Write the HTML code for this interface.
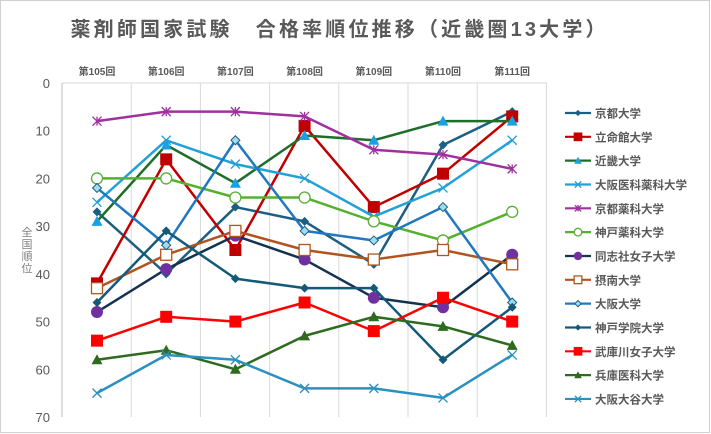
<!DOCTYPE html>
<html><head><meta charset="utf-8"><style>
body{margin:0;background:#fff}
svg{display:block;font-family:"Liberation Sans","Noto Sans CJK JP",sans-serif}
</style></head><body>
<svg id="c" width="711" height="434" xmlns="http://www.w3.org/2000/svg"></svg>
<script>
const s=document.getElementById('c');let h='';
h+='<rect x="0.5" y="0.5" width="709" height="432" fill="#fff" stroke="#d0d0d0"/>';
h+='<text x="338" y="36" font-size="20" font-weight="bold" fill="#595959" text-anchor="middle" textLength="535">薬剤師国家試験　合格率順位推移（近畿圏13大学）</text>';
const L=62,R=547,T=83,B=417,dx=69.2,x0=97;
const X=i=>x0+i*dx, Y=v=>T+v*(B-T)/70;
for(let i=0;i<=7;i++){const gx=L+i*dx;h+=`<line x1="${gx}" y1="${T}" x2="${gx}" y2="${B}" stroke="${i==0?'#bfbfbf':'#d9d9d9'}" stroke-width="1"/>`;}
h+=`<line x1="${L}" y1="${T}" x2="${R}" y2="${T}" stroke="#d9d9d9"/>`;
for(let v=0;v<=70;v+=10)h+=`<text x="50" y="${Y(v)+5}" font-size="13" fill="#595959" text-anchor="end">${v}</text>`;
['105','106','107','108','109','110','111'].forEach((n,i)=>h+=`<text x="${X(i)}" y="75" font-size="10" font-weight="bold" fill="#595959" text-anchor="middle">第${n}回</text>`);
['全','国','順','位'].forEach((c,i)=>h+=`<text x="27" y="${236+i*12}" font-size="11" fill="#7f7f7f" text-anchor="middle">${c}</text>`);
const S=[
['京都大学','#1c5f80','dia','#1c5f80',[27,40,26,29,38,13,6]],
['立命館大学','#c00000','sq','#c00000',[42,16,35,9,26,19,7]],
['近畿大学','#1e6e2a','tri','#1ba1e2',[29,13,21,11,12,8,8]],
['大阪医科薬科大学','#22a0d8','x','#22a0d8',[25,12,17,20,28,22,12]],
['京都薬科大学','#a030a0','ast','#a030a0',[8,6,6,7,14,15,18]],
['神戸薬科大学','#56b030','oc','#56b030',[20,20,24,24,29,33,27]],
['同志社女子大学','#13324f','circ','#7030a0',[48,39,32,37,45,47,36]],
['摂南大学','#b05520','osq','#b05520',[43,36,31,35,37,35,38]],
['大阪大学','#1f78c0','odia','#1f5f80',[22,34,12,31,33,26,46]],
['神戸学院大学','#135a7a','dia','#135a7a',[46,31,41,43,43,58,47]],
['武庫川女子大学','#ff0000','sq','#ff0000',[54,49,50,46,52,45,50]],
['兵庫医科大学','#2e6b1e','tri','#2e6b1e',[58,56,60,53,49,51,55]],
['大阪大谷大学','#2a90c0','x','#2a90c0',[65,57,58,64,64,66,57]]];
function mk(t,x,y,c,lc,k){k=k||1;
 switch(t){
 case 'dia':return `<path d="M${x} ${y-4.5*k}L${x+4.5*k} ${y}L${x} ${y+4.5*k}L${x-4.5*k} ${y}Z" fill="${c}"/>`;
 case 'odia':return `<path d="M${x} ${y-4.5*k}L${x+4.5*k} ${y}L${x} ${y+4.5*k}L${x-4.5*k} ${y}Z" fill="#9fdcf0" stroke="${c}" stroke-width="1"/>`;
 case 'sq':return `<rect x="${x-5.5*k}" y="${y-5.5*k}" width="${11*k}" height="${11*k}" fill="${c}" stroke="${lc}" stroke-width="1"/>`;
 case 'osq':return `<rect x="${x-5.5*k}" y="${y-5.5*k}" width="${11*k}" height="${11*k}" fill="#fff" stroke="${c}" stroke-width="1.3"/>`;
 case 'tri':return `<path d="M${x} ${y-5.5*k}L${x+5.5*k} ${y+4.5*k}L${x-5.5*k} ${y+4.5*k}Z" fill="${c}"/>`;
 case 'x':return `<path d="M${x-4.5*k} ${y-4.5*k}L${x+4.5*k} ${y+4.5*k}M${x+4.5*k} ${y-4.5*k}L${x-4.5*k} ${y+4.5*k}" stroke="${c}" stroke-width="1.3"/>`;
 case 'ast':return `<path d="M${x-4.5*k} ${y-4.5*k}L${x+4.5*k} ${y+4.5*k}M${x+4.5*k} ${y-4.5*k}L${x-4.5*k} ${y+4.5*k}M${x} ${y-4.5*k}L${x} ${y+4.5*k}" stroke="${c}" stroke-width="1.3"/>`;
 case 'oc':return `<circle cx="${x}" cy="${y}" r="${5.5*k}" fill="#fff" stroke="${c}" stroke-width="1.3"/>`;
 case 'circ':return `<circle cx="${x}" cy="${y}" r="${6*k}" fill="${c}"/>`;
 }}
S.forEach(([n,lc,t,mc,d])=>{
 h+=`<polyline points="${d.map((v,i)=>X(i)+','+Y(v)).join(' ')}" fill="none" stroke="${lc}" stroke-width="2.5" stroke-linejoin="round"/>`;
 d.forEach((v,i)=>h+=mk(t,X(i),Y(v),mc,lc));
});
S.forEach(([n,lc,t,mc,d],j)=>{const y=113+j*23.83;
 h+=`<line x1="565" y1="${y}" x2="591" y2="${y}" stroke="${lc}" stroke-width="2.2"/>`;
 h+=mk(t,578,y,mc,lc,0.7);
 h+=`<text x="595" y="${y+4.5}" font-size="11.5" font-weight="bold" fill="#595959">${n}</text>`;
});
s.innerHTML=h;
</script>
</body></html>
